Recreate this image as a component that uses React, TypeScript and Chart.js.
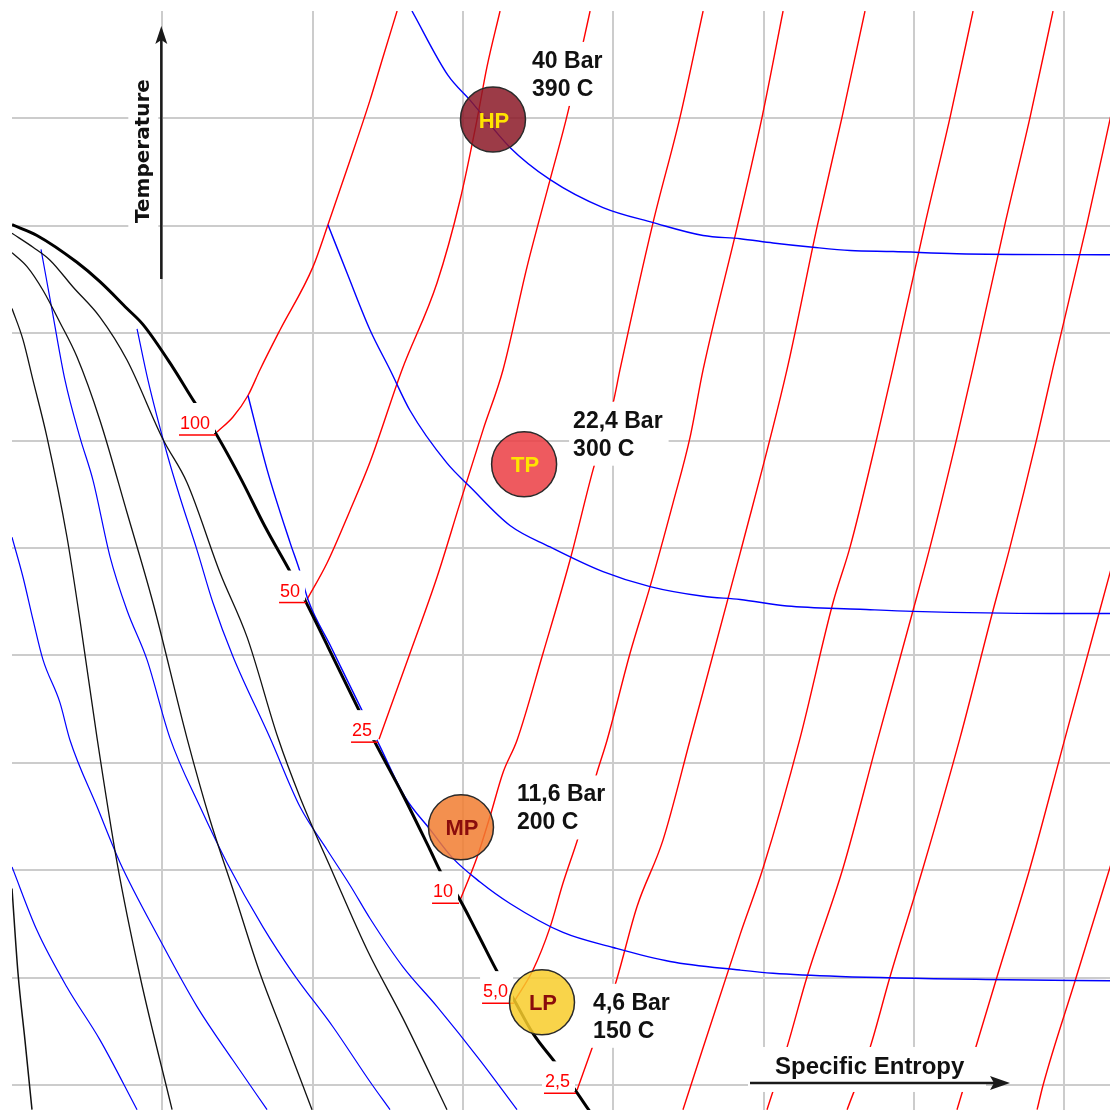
import React, { useEffect, useRef } from "react";
import { Chart, registerables } from "chart.js";

Chart.register(...registerables);

type Pt = [number, number];

// ---- Axis ranges / grid (grid units: s = specific entropy, t = temperature) ----
const S_MIN = 0;
const S_MAX = 7.305;
const T_MIN = -0.233;
const T_MAX = 10;
const S_GRID = [1, 2, 3, 4, 5, 6, 7];
const T_GRID = [0, 1, 2, 3, 4, 5, 6, 7, 8, 9];

// ---- Saturation curve (thick black) ----
const SATURATION: Pt[] = [
  [0, 8.01], [0.166, 7.91], [0.432, 7.66], [0.585, 7.48], [0.765, 7.23], [0.872, 7.08],
  [1.071, 6.68], [1.218, 6.35], [1.324, 6.14], [1.517, 5.66], [1.683, 5.2], [1.85, 4.78],
  [1.929, 4.57], [2.102, 4.08], [2.329, 3.43], [2.415, 3.19], [2.601, 2.7], [2.781, 2.19],
  [2.861, 1.96], [2.961, 1.77], [3.094, 1.42], [3.234, 1.04], [3.333, 0.81], [3.466, 0.48],
  [3.613, 0.21], [3.733, -0.02], [3.846, -0.25],
];

// ---- Thin black curves (liquid region) ----
const LIQUID_A: Pt[] = [
  [0, 7.93], [0.14, 7.8], [0.253, 7.68], [0.406, 7.43], [0.585, 7.15], [0.765, 6.75],
  [1.005, 6.01], [1.164, 5.61], [1.384, 4.77], [1.564, 4.17], [1.77, 3.23], [1.916, 2.68],
  [2.136, 1.97], [2.369, 1.24], [2.601, 0.62], [2.894, -0.23],
];
const LIQUID_B: Pt[] = [
  [0, 7.75], [0.1, 7.62], [0.206, 7.4], [0.319, 7.1], [0.432, 6.78],
  [0.585, 6.19], [0.765, 5.33], [0.938, 4.49], [1.164, 3.23], [1.317, 2.47], [1.47, 1.82],
  [1.65, 1.04], [1.803, 0.48], [1.996, -0.23],
];
const LIQUID_C: Pt[] = [
  [0, 7.23], [0.073, 6.94], [0.14, 6.56], [0.233, 6.03], [0.366, 5.1], [0.452, 4.33],
  [0.566, 3.23], [0.699, 2.07], [0.852, 1.01], [1.065, -0.23],
];
const LIQUID_D: Pt[] = [[0, 1.83], [0.04, 1.04], [0.086, 0.42], [0.133, -0.23]];

// ---- Blue isobars ----
const ISOBAR_HP: Pt[] = [
  [2.661, 10.0], [2.901, 9.4], [3.047, 9.17], [3.313, 8.73], [3.58, 8.43], [3.932, 8.17],
  [4.265, 8.03], [4.598, 7.91], [4.844, 7.88], [5.063, 7.84], [5.329, 7.8], [5.576, 7.77],
  [5.862, 7.76], [6.287, 7.74], [7.305, 7.73],
];
const ISOBAR_TP: Pt[] = [
  [2.102, 8.01], [2.229, 7.56], [2.382, 7.03], [2.515, 6.66], [2.648, 6.28], [2.894, 5.79],
  [3.047, 5.57], [3.313, 5.21], [3.58, 5.01], [3.932, 4.78], [4.245, 4.64], [4.598, 4.55],
  [4.844, 4.52], [5.156, 4.46], [5.642, 4.43], [5.995, 4.41], [6.906, 4.39], [7.305, 4.39],
];
const ISOBAR_MP: Pt[] = [
  [1.57, 6.42], [1.697, 5.73], [1.85, 5.05], [1.916, 4.78], [1.969, 4.52], [2.122, 4.08],
  [2.349, 3.43], [2.435, 3.19], [2.615, 2.68], [2.781, 2.38], [2.934, 2.11], [3.114, 1.89],
  [3.313, 1.69], [3.666, 1.42], [3.999, 1.28], [4.378, 1.15], [4.844, 1.07], [5.063, 1.04],
  [5.509, 1.01], [6.62, 0.98], [7.305, 0.97],
];
const ISOBAR_4: Pt[] = [
  [0.832, 7.04], [0.905, 6.56], [1.031, 5.88], [1.118, 5.47], [1.231, 4.98], [1.337, 4.49],
  [1.47, 3.99], [1.717, 3.23], [1.916, 2.59], [2.096, 2.19], [2.249, 1.86], [2.382, 1.55],
  [2.601, 1.1], [2.828, 0.73], [3.114, 0.23], [3.36, -0.23],
];
const ISOBAR_5: Pt[] = [
  [0.193, 7.78], [0.266, 7.22], [0.353, 6.56], [0.452, 6.03], [0.539, 5.63], [0.652, 4.92],
  [0.765, 4.42], [0.898, 3.96], [1.051, 3.23], [1.251, 2.59], [1.43, 2.07], [1.67, 1.47],
  [1.87, 1.04], [2.136, 0.54], [2.382, 0.03], [2.515, -0.23],
];
const ISOBAR_6: Pt[] = [
  [0, 5.1], [0.073, 4.73], [0.14, 4.33], [0.206, 3.96], [0.319, 3.56], [0.386, 3.21],
  [0.566, 2.59], [0.719, 2.07], [0.985, 1.35], [1.231, 0.73], [1.47, 0.23], [1.697, -0.23],
];
const ISOBAR_7: Pt[] = [[0, 2.03], [0.166, 1.44], [0.366, 0.91], [0.585, 0.42], [0.832, -0.23]];

// ---- Red isochores (labelled ones start on the saturation curve) ----
const ISOCHORE_100: Pt[] = [
  [1.364, 6.08], [1.47, 6.22], [1.57, 6.42], [1.65, 6.66], [1.783, 7.03], [2.003, 7.62],
  [2.102, 8.01], [2.249, 8.61], [2.382, 9.17], [2.468, 9.57], [2.562, 10.0],
];
const ISOCHORE_50: Pt[] = [
  [1.963, 4.52], [2.096, 4.86], [2.249, 5.35], [2.382, 5.8], [2.595, 6.66], [2.828, 7.47],
  [2.981, 8.24], [3.094, 8.99], [3.16, 9.48], [3.247, 10.0],
];
const ISOCHORE_25: Pt[] = [
  [2.442, 3.22], [2.648, 4.02], [2.828, 4.73], [2.981, 5.42], [3.134, 6.1], [3.267, 6.66],
  [3.427, 7.62], [3.58, 8.43], [3.699, 9.06], [3.799, 9.7], [3.846, 10.0],
];
const ISOCHORE_10: Pt[] = [
  [2.981, 1.72], [3.094, 2.12], [3.18, 2.5], [3.267, 2.91], [3.36, 3.21], [3.533, 4.02],
  [3.713, 4.89], [3.866, 5.73], [3.999, 6.35], [4.045, 6.66], [4.265, 8.03], [4.444, 9.01],
  [4.598, 10.0],
];
const ISOCHORE_5: Pt[] = [
  [3.347, 0.79], [3.466, 1.07], [3.58, 1.47], [3.666, 1.88], [3.766, 2.3], [3.892, 2.91],
  [3.959, 3.21], [4.112, 4.02], [4.245, 4.64], [4.398, 5.42], [4.511, 6.03], [4.598, 6.66],
  [4.83, 8.02], [4.99, 9.01], [5.13, 10.0],
];
const ISOCHORE_2_5: Pt[] = [
  [3.759, -0.05], [3.866, 0.37], [4.012, 0.93], [4.158, 1.66], [4.331, 2.28], [4.511, 3.21],
  [4.844, 4.95], [5.156, 6.66], [5.356, 7.99], [5.522, 9.01], [5.675, 10.0],
];
const ISOCHORE_C: Pt[] = [
  [4.464, -0.23], [4.844, 1.4], [4.997, 2.02], [5.243, 3.23], [5.462, 4.49], [5.576, 5.01],
  [5.755, 6.03], [5.862, 6.68], [6.075, 8.02], [6.241, 9.01], [6.394, 10.0],
];
const ISOCHORE_D: Pt[] = [
  [5.023, -0.23], [5.156, 0.35], [5.29, 1.01], [5.529, 2.02], [5.762, 3.23], [5.995, 4.42],
  [6.108, 5.01], [6.287, 6.03], [6.394, 6.68], [6.607, 8.02], [6.773, 9.01], [6.926, 10.0],
];
const ISOCHORE_E: Pt[] = [
  [5.556, -0.23], [5.709, 0.35], [5.842, 1.01], [6.061, 2.02], [6.307, 3.23], [6.527, 4.42],
  [6.64, 5.01], [6.82, 6.03], [6.926, 6.68], [7.152, 8.02], [7.319, 9.08],
];
const ISOCHORE_F: Pt[] = [[6.287, -0.23], [6.554, 1.01], [6.773, 2.02], [7.006, 3.23], [7.319, 4.84]];
const ISOCHORE_G: Pt[] = [[6.82, -0.23], [6.86, 0], [7.073, 0.97], [7.319, 2.09]];

const LABELLED_ISOCHORES = [ISOCHORE_100, ISOCHORE_50, ISOCHORE_25, ISOCHORE_10, ISOCHORE_5, ISOCHORE_2_5];
const ISOCHORE_LABELS = ["100", "50", "25", "10", "5,0", "2,5"];
const OTHER_ISOCHORES = [ISOCHORE_C, ISOCHORE_D, ISOCHORE_E, ISOCHORE_F, ISOCHORE_G];

// ---- Turbine stages ----
const STAGES = ["HP", "TP", "MP", "LP"];
const STAGE_S = [3.2, 3.407, 2.987, 3.526];
const STAGE_T = [8.99, 5.78, 2.4, 0.77];
const STAGE_PRESSURE = ["40 Bar", "22,4 Bar", "11,6 Bar", "4,6 Bar"];
const STAGE_TEMP = ["390 C", "300 C", "200 C", "150 C"];
const STAGE_LABEL_S = [3.46, 3.733, 3.36, 3.866];
const STAGE_LABEL_T = [9.47, 6.12, 2.64, 0.7];

// ---- Styles ----
const STAGE_FILL = ["rgba(139,25,39,0.85)", "rgba(235,61,67,0.85)", "rgba(241,124,48,0.85)", "rgba(248,205,42,0.85)"];
const STAGE_TEXT = ["#ffe400", "#ffe400", "#8a0c0c", "#8a0c0c"];
const SANS = '"Liberation Sans", Arial, sans-serif';
const RED = "#ff0000";
const BLUE = "#0000ff";

const toXY = (pts: Pt[]) => pts.map(([x, y]) => ({ x, y }));

const overlayPlugin = {
  id: "tsOverlay",
  beforeDatasetDraw(chart: any, args: any) {
    if (args.index !== 0) return;
    const { ctx } = chart;
    const xs = chart.scales.x;
    const ys = chart.scales.y;
    ctx.save();
    ctx.font = `18px ${SANS}`;
    ctx.textAlign = "left";
    ctx.textBaseline = "alphabetic";
    LABELLED_ISOCHORES.forEach((curve, i) => {
      const px = xs.getPixelForValue(curve[0][0]);
      const py = ys.getPixelForValue(curve[0][1]);
      const label = ISOCHORE_LABELS[i];
      const w = ctx.measureText(label).width;
      const ux1 = px - 2;
      const uy = py + 3;
      const ux0 = ux1 - w - 6;
      ctx.fillStyle = "#ffffff";
      ctx.fillRect(ux0 - 2, uy - 32, w + 8, 30);
      ctx.fillStyle = RED;
      ctx.fillText(label, ux0 + 1, uy - 6);
      ctx.strokeStyle = RED;
      ctx.lineWidth = 1.5;
      ctx.beginPath();
      ctx.moveTo(ux0, uy);
      ctx.lineTo(ux1 + 1, uy);
      ctx.stroke();
    });
    ctx.restore();
  },
  afterDatasetsDraw(chart: any) {
    const { ctx } = chart;
    const xs = chart.scales.x;
    const ys = chart.scales.y;
    ctx.save();

    // stage names inside circles
    ctx.font = `bold 22px ${SANS}`;
    ctx.textAlign = "center";
    ctx.textBaseline = "middle";
    STAGES.forEach((name, i) => {
      ctx.fillStyle = STAGE_TEXT[i];
      ctx.fillText(name, xs.getPixelForValue(STAGE_S[i]) + 1, ys.getPixelForValue(STAGE_T[i]) + 2);
    });

    // pressure / temperature labels
    ctx.font = `bold 23px ${SANS}`;
    ctx.textAlign = "left";
    ctx.textBaseline = "alphabetic";
    STAGES.forEach((_, i) => {
      const lx = xs.getPixelForValue(STAGE_LABEL_S[i]);
      const ly = ys.getPixelForValue(STAGE_LABEL_T[i]);
      const w = Math.max(ctx.measureText(STAGE_PRESSURE[i]).width, ctx.measureText(STAGE_TEMP[i]).width);
      ctx.fillStyle = "#ffffff";
      ctx.fillRect(lx - 4, ly - 26, w + 10, 28 + 26 + 10);
      ctx.fillStyle = "#111111";
      ctx.fillText(STAGE_PRESSURE[i], lx, ly);
      ctx.fillText(STAGE_TEMP[i], lx, ly + 28);
    });

    // Temperature axis title + arrow
    const ax = xs.getPixelForValue(1) - 1;
    ctx.save();
    ctx.translate(ax - 18, 151);
    ctx.rotate(-Math.PI / 2);
    ctx.font = `bold 20px "DejaVu Sans", ${SANS}`;
    const tw = ctx.measureText("Temperature").width;
    ctx.fillStyle = "#ffffff";
    ctx.fillRect(-tw / 2 - 10, -15, tw + 20, 30);
    ctx.fillStyle = "#111111";
    ctx.textAlign = "center";
    ctx.textBaseline = "middle";
    ctx.fillText("Temperature", 0, 0);
    ctx.restore();

    ctx.strokeStyle = "#1a1a1a";
    ctx.fillStyle = "#1a1a1a";
    ctx.lineWidth = 2.5;
    ctx.beginPath();
    ctx.moveTo(ax, 279);
    ctx.lineTo(ax, 40);
    ctx.stroke();
    ctx.beginPath();
    ctx.moveTo(ax, 26);
    ctx.lineTo(ax + 6, 44);
    ctx.lineTo(ax, 40);
    ctx.lineTo(ax - 6, 44);
    ctx.closePath();
    ctx.fill();

    // Specific Entropy axis title + arrow
    const ay = ys.getPixelForValue(0) - 2;
    ctx.fillStyle = "#ffffff";
    ctx.fillRect(748, ay - 36, 238, 45);
    ctx.font = `bold 24px ${SANS}`;
    ctx.fillStyle = "#111111";
    ctx.textAlign = "left";
    ctx.textBaseline = "alphabetic";
    ctx.fillText("Specific Entropy", 775, ay - 9);
    ctx.strokeStyle = "#1a1a1a";
    ctx.fillStyle = "#1a1a1a";
    ctx.beginPath();
    ctx.moveTo(750, ay);
    ctx.lineTo(996, ay);
    ctx.stroke();
    ctx.beginPath();
    ctx.moveTo(1010, ay);
    ctx.lineTo(990, ay - 7);
    ctx.lineTo(994, ay);
    ctx.lineTo(990, ay + 7);
    ctx.closePath();
    ctx.fill();

    ctx.restore();
  },
};

export default function App() {
  const ref = useRef<HTMLCanvasElement | null>(null);

  useEffect(() => {
    const canvas = ref.current;
    if (!canvas) return;

    const line = (pts: Pt[], color: string, width: number) => ({
      data: toXY(pts),
      showLine: true,
      borderColor: color,
      backgroundColor: color,
      borderWidth: width,
      pointRadius: 0,
      pointHoverRadius: 0,
      cubicInterpolationMode: "monotone",
      fill: false,
    });

    const datasets: any[] = [
      {
        data: STAGE_S.map((s, i) => ({ x: s, y: STAGE_T[i] })),
        showLine: false,
        pointStyle: "circle",
        pointRadius: 32.5,
        pointHoverRadius: 32.5,
        pointBackgroundColor: STAGE_FILL,
        pointBorderColor: "#2a2a2a",
        pointBorderWidth: 1.5,
      },
      line(SATURATION, "#000000", 3),
      line(LIQUID_A, "#111111", 1.3),
      line(LIQUID_B, "#111111", 1.3),
      line(LIQUID_C, "#111111", 1.3),
      line(LIQUID_D, "#111111", 1.5),
      line(ISOBAR_HP, BLUE, 1.4),
      line(ISOBAR_TP, BLUE, 1.4),
      line(ISOBAR_MP, BLUE, 1.4),
      line(ISOBAR_4, BLUE, 1.2),
      line(ISOBAR_5, BLUE, 1.2),
      line(ISOBAR_6, BLUE, 1.2),
      line(ISOBAR_7, BLUE, 1.2),
      ...LABELLED_ISOCHORES.map((c) => line(c, RED, 1.4)),
      ...OTHER_ISOCHORES.map((c) => line(c, RED, 1.4)),
    ];

    const chart = new Chart(canvas, {
      type: "scatter",
      data: { datasets },
      options: {
        responsive: false,
        animation: false,
        devicePixelRatio: 1,
        events: [],
        layout: { autoPadding: false, padding: { left: 12, top: 11, right: 0, bottom: 0 } },
        plugins: {
          legend: { display: false },
          tooltip: { enabled: false },
          title: { display: false },
        },
        scales: {
          x: {
            type: "linear",
            min: S_MIN,
            max: S_MAX,
            ticks: { display: false },
            grid: { color: "#cccccc", lineWidth: 2, drawTicks: false },
            border: { display: false },
            afterBuildTicks: (axis: any) => {
              axis.ticks = S_GRID.map((v) => ({ value: v }));
            },
          },
          y: {
            type: "linear",
            min: T_MIN,
            max: T_MAX,
            ticks: { display: false },
            grid: { color: "#cccccc", lineWidth: 2, drawTicks: false },
            border: { display: false },
            afterBuildTicks: (axis: any) => {
              axis.ticks = T_GRID.map((v) => ({ value: v }));
            },
          },
        },
      } as any,
      plugins: [overlayPlugin as any],
    });

    return () => chart.destroy();
  }, []);

  return (
    <div style={{ position: "absolute", left: 0, top: 0, width: 1110, height: 1110, background: "#ffffff" }}>
      <canvas ref={ref} width={1110} height={1110} style={{ display: "block" }} />
    </div>
  );
}
